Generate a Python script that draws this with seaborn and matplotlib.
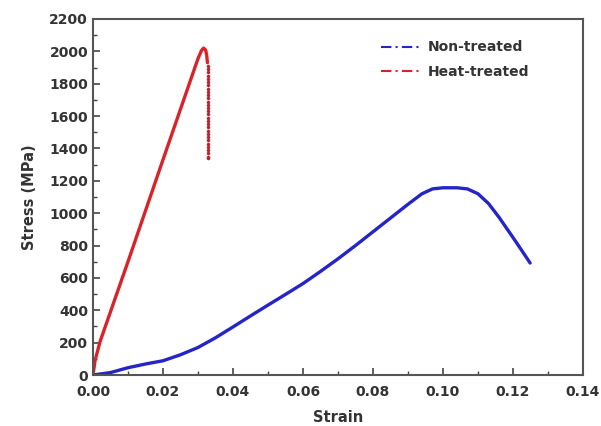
import matplotlib
matplotlib.use("Agg")
import matplotlib.pyplot as plt
from matplotlib.lines import Line2D
from matplotlib.ticker import MultipleLocator
import seaborn as sns
import pandas as pd

# Non-treated curve
non_strain = [0.0, 0.005, 0.010, 0.015, 0.020, 0.025, 0.030, 0.035, 0.040, 0.045,
              0.050, 0.055, 0.060, 0.065, 0.070, 0.075, 0.080, 0.085, 0.090, 0.094,
              0.097, 0.100, 0.104, 0.107, 0.110, 0.113, 0.116, 0.120, 0.1225, 0.1249]
non_stress = [0, 15, 45, 68, 88, 125, 170, 230, 297, 365,
              432, 498, 565, 640, 718, 800, 885, 970, 1055, 1120,
              1150, 1157, 1157, 1150, 1120, 1060, 975, 850, 770, 692]

# Heat-treated curve (continuous part)
heat_strain = [0.0, 0.0006, 0.002, 0.010, 0.020, 0.028, 0.0300,
               0.0310, 0.0316, 0.0322, 0.0325, 0.0327]
heat_stress = [0, 90, 205, 700, 1330, 1830, 1955,
               2005, 2020, 2008, 1975, 1930]

# Heat-treated curve (sparse points after the peak)
drop_strain = 0.0328
drop_stress = [1910, 1890, 1870, 1850, 1830, 1810, 1790, 1770, 1750, 1730,
               1710, 1690, 1670, 1650, 1630, 1610, 1590, 1570, 1550, 1530,
               1510, 1490, 1470, 1450, 1430, 1410, 1390, 1370, 1350, 1340]

series_names = ["Non-treated", "Heat-treated"]
blue = "#2424c8"
red = "#d8232a"

sns.set_theme(style="ticks")
plt.rcParams['font.family'] = ['DejaVu Sans']

fig = plt.figure(figsize=(6.01, 4.26), dpi=100)
ax = fig.add_axes([0.1547, 0.1197, 0.9700 - 0.1547, 0.9554 - 0.1197])

df_non = pd.DataFrame({"Strain": non_strain, "Stress": non_stress})
df_heat = pd.DataFrame({"Strain": heat_strain, "Stress": heat_stress})
df_drop = pd.DataFrame({"Strain": [drop_strain] * len(drop_stress), "Stress": drop_stress})

sns.lineplot(data=df_non, x="Strain", y="Stress", sort=False, estimator=None,
             color=blue, linewidth=2.4, ax=ax, solid_joinstyle="round")
sns.lineplot(data=df_heat, x="Strain", y="Stress", sort=False, estimator=None,
             color=red, linewidth=2.4, ax=ax, solid_joinstyle="round")
sns.scatterplot(data=df_drop, x="Strain", y="Stress", color="#b82030", s=5,
                edgecolor="#b82030", linewidth=0.3, ax=ax)

ax.set_xlim(0, 0.14)
ax.set_ylim(0, 2200)
ax.xaxis.set_major_locator(MultipleLocator(0.02))
ax.xaxis.set_minor_locator(MultipleLocator(0.01))
ax.yaxis.set_major_locator(MultipleLocator(200))
ax.yaxis.set_minor_locator(MultipleLocator(100))
ax.set_xticks([0.0, 0.02, 0.04, 0.06, 0.08, 0.10, 0.12, 0.14])
ax.set_xticklabels(["0.00", "0.02", "0.04", "0.06", "0.08", "0.10", "0.12", "0.14"])

ax.tick_params(which="both", direction="in", top=False, right=False,
               colors="#444444", labelcolor="#333333")
ax.tick_params(which="major", length=5, width=1.2, labelsize=10)
ax.tick_params(axis="x", which="major", pad=7)
ax.tick_params(which="minor", length=3, width=1.0)
for lbl in ax.get_xticklabels() + ax.get_yticklabels():
    lbl.set_fontweight("bold")
for sp in ax.spines.values():
    sp.set_visible(True)
    sp.set_color("#555555")
    sp.set_linewidth(1.5)

ax.set_xlabel("Strain", fontsize=10.5, fontweight="bold", color="#333333", labelpad=8)
ax.set_ylabel("Stress (MPa)", fontsize=10.5, fontweight="bold", color="#333333", labelpad=9)

handles = [Line2D([0], [0], color=blue, linestyle=(0, (5, 2, 1, 2)), linewidth=1.5),
           Line2D([0], [0], color=red, linestyle=(0, (5, 2, 1, 2)), linewidth=1.5)]
leg = ax.legend(handles, series_names, loc="upper right", bbox_to_anchor=(0.915, 0.975),
                frameon=False, handlelength=3.0, handletextpad=0.35, labelspacing=0.75,
                prop={"weight": "bold", "size": 10})
for t in leg.get_texts():
    t.set_color("#333333")

fig.savefig("out.png", dpi=100, facecolor="white")
